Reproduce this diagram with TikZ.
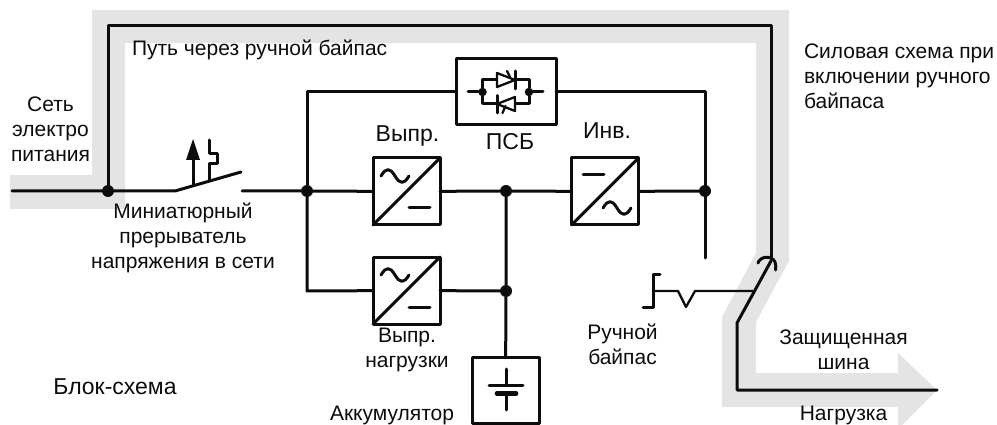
\documentclass[tikz,border=0pt]{standalone}
\usepackage{fontspec}
\setmainfont{Liberation Sans}
\usetikzlibrary{calc}
\definecolor{band}{RGB}{228,228,228}
\definecolor{ink}{RGB}{12,12,12}
\tikzset{
  wire/.style={line width=3pt,draw=ink,line cap=round,line join=round},
  thin wire/.style={line width=2.3pt,draw=ink,line cap=round,line join=round},
  boxed/.style={draw=ink,line width=3pt,rectangle,outer sep=0pt,inner sep=0pt,line join=round},
  conv/.style={boxed,minimum width=67pt,minimum height=67pt},
  dot/.style={circle,fill=ink,draw=none,minimum size=12pt,inner sep=0pt,outer sep=0pt},
  smalldot/.style={circle,fill=ink,draw=none,minimum size=8.5pt,inner sep=0pt,outer sep=0pt},
  lbl/.style={font=\fontsize{21}{25.2}\selectfont,text=ink,inner sep=0pt,outer sep=0pt,align=center},
  lbll/.style={lbl,align=left,anchor=west},
  lblbase/.style={lbl,anchor=base},
  lblbig/.style={lblbase,font=\fontsize{23}{27}\selectfont},
}
\newcommand{\tildeat}[2]{%
  \draw[wire,shift={(#1,#2)}] (-14,0) .. controls (-9,-8.5) and (-5,-8.5) .. (0,0) .. controls (5,8.5) and (9,8.5) .. (14,0);}
\begin{document}
\begin{tikzpicture}[x=1pt,y=-1pt]
\useasboundingbox (0,0) rectangle (997,425);
% grey band
\fill[band] (10,175) -- (92,175) -- (92,10) -- (789,10) -- (789,261) -- (756,322) -- (756,373)
  -- (898,373) -- (898,353) -- (937,390) -- (902,425) -- (898,425) -- (898,407) -- (722,407)
  -- (722,317) -- (756,253) -- (756,43) -- (125,43) -- (125,209) -- (10,209) -- cycle;
% nodes
\node[conv] (rect) at (406.5,191.5) {};
\node[conv] (inv) at (605,191.5) {};
\node[conv] (chg) at (406.5,290.5) {};
\node[boxed,minimum width=100pt,minimum height=66pt] (psb) at (506,92) {};
\node[conv,minimum height=66pt] (bat) at (505.5,390) {};
\node[dot] (jin) at (108,191) {};
\node[dot] (jl) at (307,191) {};
\node[dot] (jm) at (506,191) {};
\node[dot] (jr) at (705,191) {};
\node[dot] (jc) at (506,291) {};
\coordinate (src) at (12,191);
\coordinate (brkA) at (175,191);
\coordinate (brkB) at (241,172);
\coordinate (brkC) at (242,191);
\coordinate (tl) at (307,92);
\coordinate (tr) at (705,92);
\coordinate (bl) at (307,291);
\coordinate (swopen) at (705,258);
\coordinate (bpA) at (108,26);
\coordinate (bpB) at (771,26);
\coordinate (bpC) at (771,259);
\coordinate (swA) at (771,261);
\coordinate (swB) at (737,323);
\coordinate (swC) at (737,390);
\coordinate (out) at (937,390);
% wiring
\draw[wire] (src) -- (jin) -- (brkA) -- (brkB);
\draw[wire] (brkC) -- (jl) -- (rect);
\draw[wire] (rect) -- (jm) -- (inv);
\draw[wire] (inv) -- (jr);
\draw[wire] (jl) -- (tl) -- (psb);
\draw[wire] (psb) -- (tr) -- (swopen);
\draw[wire] (jl) -- (bl) -- (chg);
\draw[wire] (chg) -- (jc);
\draw[wire] (jm) -- (jc) -- (bat);
\draw[wire] (jin) -- (bpA) -- (bpB) -- (bpC);
\draw[wire] (swA) -- (swB) -- (swC) -- (out);
% bypass switch details
\draw[wire] (758,263) .. controls (760,256) and (772,255) .. (775,262) .. controls (776,265) and (776,268) .. (775.5,270);
\draw[thin wire] (753,291) -- (695,291) -- (686,307) -- (678,291) -- (653,291);
\draw[wire] (660,274) -- (653,274) -- (653,307) -- (643,307);
% breaker details
\draw[wire] (193,185) -- (193,158);
\fill[ink] (193,139) -- (200,160) -- (186,160) -- cycle;
\draw[wire] (209,180) -- (209,164) -- (217.5,164) -- (217.5,154) -- (209,154) -- (209,140);
% converter symbols
\draw[wire] (rect.south west) -- (rect.north east);
\draw[wire] (inv.south west) -- (inv.north east);
\draw[wire] (chg.south west) -- (chg.north east);
\tildeat{395}{176}
\draw[wire] (409,208) -- (430,208);
\tildeat{395}{275}
\draw[wire] (409,307) -- (430,307);
\draw[wire] (583,175) -- (604,175);
\tildeat{617}{208}
% battery
\draw[wire] (506,369) -- (506,385);
\draw[wire] (489,385) -- (523,385);
\draw[line width=4.6pt,draw=ink,line cap=round] (497,393.5) -- (516,393.5);
\draw[wire] (506,393.5) -- (506,410);
% SCR pair
\node[smalldot] (sl) at (482.5,92) {};
\node[smalldot] (sr) at (529,92) {};
\draw[wire] (468,92) -- (sl);
\draw[wire] (sr) -- (543,92);
\draw[wire] (sl) -- (482.5,80) -- (529,80) -- (sr);
\draw[wire] (sl) -- (482.5,104) -- (529,104) -- (sr);
\draw[thin wire,fill=white] (497,73) -- (515,80) -- (497,87) -- cycle;
\draw[wire] (515,71) -- (515,89);
\draw[thin wire] (507,71) -- (510,77);
\draw[thin wire,fill=white] (515,97) -- (497,104) -- (515,111) -- cycle;
\draw[wire] (497,95.5) -- (497,113);
\draw[thin wire] (502.5,113) -- (505.5,106);
% labels
\node[lbl] (t1) at (50.5,129) {Сеть\\электро\\питания};
\node[lbll] (t2) at (132,50) {Путь через ручной байпас};
\node[lbll] (t3) at (804,76) {Силовая схема при\\включении ручного\\байпаса};
\node[lbl] (t4) at (183,238) {Миниатюрный\\прерыватель\\напряжения в сети};
\node[lblbig] (t5) at (407.5,142) {Выпр.};
\node[lblbig] (t6) at (510,150) {ПСБ};
\node[lblbig] (t7) at (607,139) {Инв.};
\node[lbl] (t8) at (407,350) {Выпр.\\нагрузки};
\node[lbl] (t9) at (622.5,344) {Ручной\\байпас};
\node[lbl] (t10) at (843.5,350) {Защищенная\\шина};
\node[lblbase] (t11) at (843.5,420) {Нагрузка};
\node[lblbig] (t12) at (115,394) {Блок-схема};
\node[lblbase] (t13) at (392,420) {Аккумулятор};
\end{tikzpicture}
\end{document}
